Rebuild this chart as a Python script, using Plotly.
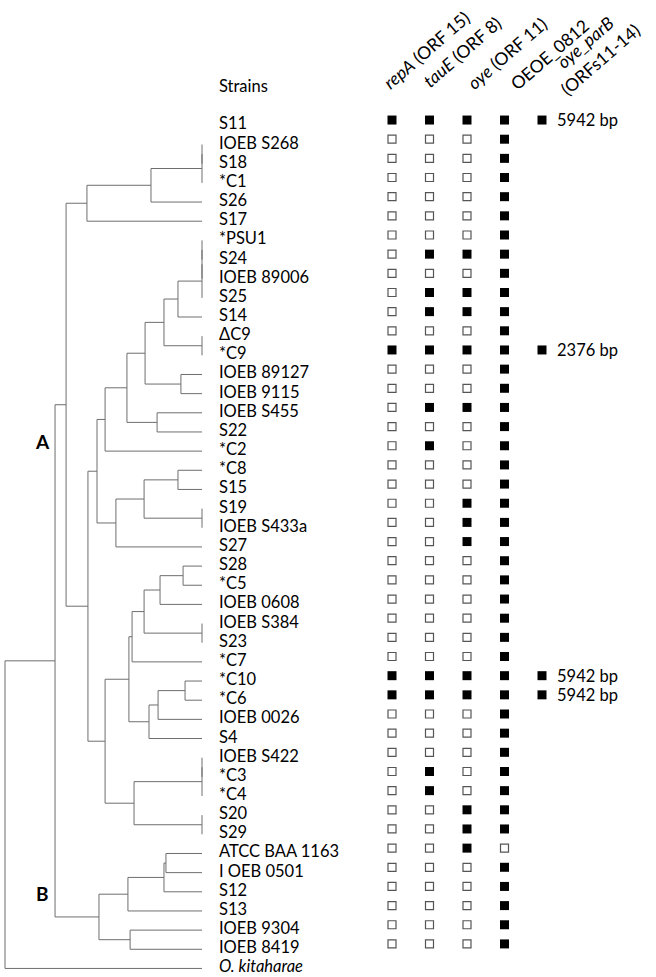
import plotly.graph_objects as go

# ---------------- data ----------------
strains = ["S11", "IOEB S268", "S18", "*C1", "S26", "S17", "*PSU1", "S24", "IOEB 89006",
           "S25", "S14", "ΔC9", "*C9", "IOEB 89127", "IOEB 9115", "IOEB S455", "S22", "*C2",
           "*C8", "S15", "S19", "IOEB S433a", "S27", "S28", "*C5", "IOEB 0608", "IOEB S384",
           "S23", "*C7", "*C10", "*C6", "IOEB 0026", "S4", "IOEB S422", "*C3", "*C4", "S20",
           "S29", "ATCC BAA 1163", "I OEB 0501", "S12", "S13", "IOEB 9304", "IOEB 8419",
           "O. kitaharae"]

gene_labels = ["<i>repA</i> (ORF 15)", "<i>tauE</i> (ORF 8)", "<i>oye</i> (ORF 11)", "OEOE_0812",
               "<i>oye_parB</i><br>(ORFs11-14)"]

# presence (1) / absence (0) for the 44 Oenococcus strains (O. kitaharae not typed)
repA = [1, 0, 0, 0, 0, 0, 0, 0, 0, 0, 0, 0, 1, 0, 0, 0, 0, 0, 0, 0, 0, 0, 0, 0, 0, 0, 0, 0, 0,
        1, 1, 0, 0, 0, 0, 0, 0, 0, 0, 0, 0, 0, 0, 0]
tauE = [1, 0, 0, 0, 0, 0, 0, 1, 0, 1, 1, 0, 1, 0, 0, 1, 0, 1, 0, 0, 0, 0, 0, 0, 0, 0, 0, 0, 0,
        1, 1, 0, 0, 0, 1, 1, 0, 0, 0, 0, 0, 0, 0, 0]
oye = [1, 0, 0, 0, 0, 0, 0, 1, 0, 1, 1, 0, 1, 0, 0, 1, 0, 0, 0, 0, 1, 1, 1, 0, 0, 0, 0, 0, 0,
       1, 1, 0, 0, 0, 0, 0, 1, 1, 1, 0, 0, 0, 0, 0]
oeoe_0812 = [1, 1, 1, 1, 1, 1, 1, 1, 1, 1, 1, 1, 1, 1, 1, 1, 1, 1, 1, 1, 1, 1, 1, 1, 1, 1, 1, 1, 1,
             1, 1, 1, 1, 1, 1, 1, 1, 1, 0, 1, 1, 1, 1, 1]
oye_parB = {"S11": "5942 bp", "*C9": "2376 bp", "*C10": "5942 bp", "*C6": "5942 bp"}

# dendrogram: (height, left, right); leaves are strain names; heights = relative distance
tree = (1.000,
        (0.746,
         (0.690,
          (0.584,
           (0.259, (0.0, (0.0, "IOEB S268", "S18"), "*C1"), "S26"),
           "S17"),
          (0.579,
           (0.533,
            (0.492,
             (0.381,
              (0.289,
               (0.193,
                (0.122, (0.0, (0.0, (0.0, "*PSU1", "S24"), "IOEB 89006"), "S25"), "S14"),
                (0.0, "ΔC9", "*C9")),
               (0.107, "IOEB 89127", "IOEB 9115")),
              (0.228, "IOEB S455", "S22")),
             "*C2"),
            (0.437,
             (0.294, (0.122, "*C8", "S15"), (0.0, "S19", "IOEB S433a")),
             "S27")),
           (0.492,
            (0.371,
             (0.355,
              (0.294, (0.213, (0.096, "S28", "*C5"), "IOEB 0608"), (0.0, "IOEB S384", "S23")),
              "*C7"),
             (0.269, (0.223, (0.086, "*C10", "*C6"), "IOEB 0026"), "S4")),
            (0.345, (0.0, (0.0, "IOEB S422", "*C3"), "*C4"), (0.0, "S20", "S29"))))),
         (0.523,
          (0.376, (0.193, (0.183, "ATCC BAA 1163", "I OEB 0501"), "S12"), "S13"),
          (0.365, "IOEB 9304", "IOEB 8419"))),
        "O. kitaharae")

clade_labels = ["A", "B"]

# ---------------- layout constants ----------------
W, H = 656, 977
ROW0_PX, ROW_PX = 125.4, 19.16          # pixel row geometry
TIP_PX, UNIT_PX = 202, 197              # tree tips position, pixels per distance unit
COL0_PX, COL_PX = 392, 37.5             # matrix columns
FONT = "Lato, 'Open Sans', sans-serif"
LABEL_SIZE = 16.5
MARK_DY = -0.28                          # marker row offset (rows)
HEADER_XSHIFT = [34, 32, 40, 45, 51]     # header centre offset from its column (px)
HEADER_Y = [50, 52, 53, 54, 51]          # header centre from top (px)
HEADER_ANGLE = -41

row_of = {s: i for i, s in enumerate(strains)}

# ---------------- dendrogram segments ----------------
xs, ys = [], []


def walk(node):
    if isinstance(node, str):
        return row_of[node], 0.0
    h, left, right = node
    yl, hl = walk(left)
    yr, hr = walk(right)
    xs.extend([h, h, None]); ys.extend([yl, yr, None])
    xs.extend([h, hl, None]); ys.extend([yl, yl, None])
    xs.extend([h, hr, None]); ys.extend([yr, yr, None])
    return (yl + yr) / 2, h


walk(tree)

fig = go.Figure()
fig.add_trace(go.Scatter(x=xs, y=ys, mode="lines", line=dict(color="#6e6e6e", width=1),
                         hoverinfo="skip", showlegend=False, xaxis="x", yaxis="y"))

# ---------------- matrix ----------------
genes = [repA, tauE, oye, oeoe_0812]
fx, fy, ox, oy = [], [], [], []
for ci, g in enumerate(genes):
    for ri, v in enumerate(g):
        if v:
            fx.append(ci); fy.append(ri + MARK_DY)
        else:
            ox.append(ci); oy.append(ri + MARK_DY)
for s in oye_parB:
    fx.append(4); fy.append(row_of[s] + MARK_DY)

fig.add_trace(go.Scatter(x=fx, y=fy, mode="markers", xaxis="x2", yaxis="y",
                         marker=dict(symbol="square", size=9, color="black",
                                     line=dict(width=0)),
                         hoverinfo="skip", showlegend=False))
fig.add_trace(go.Scatter(x=ox, y=oy, mode="markers", xaxis="x2", yaxis="y",
                         marker=dict(symbol="square", size=8, color="white",
                                     line=dict(width=1.2, color="#555555")),
                         hoverinfo="skip", showlegend=False))

ann = []
for s, i in row_of.items():
    txt = "<i>%s</i>" % s if s == "O. kitaharae" else s
    ann.append(dict(x=0, y=i, xref="x", yref="y", text=txt, showarrow=False,
                    xanchor="left", yanchor="middle", xshift=15, yshift=2,
                    font=dict(family=FONT, size=LABEL_SIZE, color="black")))
for s, t in oye_parB.items():
    ann.append(dict(x=4, y=row_of[s] + MARK_DY, xref="x2", yref="y", text=t, showarrow=False,
                    xanchor="left", yanchor="middle", xshift=13,
                    font=dict(family=FONT, size=LABEL_SIZE, color="black")))
ann.append(dict(x=0, y=1 - 86 / H, xref="x", yref="paper", text="Strains", showarrow=False,
                xanchor="left", yanchor="middle", xshift=15,
                font=dict(family=FONT, size=LABEL_SIZE, color="black")))
for ci, lab in enumerate(gene_labels):
    ann.append(dict(x=ci, y=1 - HEADER_Y[ci] / H, xref="x2", yref="paper", text=lab,
                    showarrow=False, xanchor="center", yanchor="middle",
                    textangle=HEADER_ANGLE, xshift=HEADER_XSHIFT[ci], align="center",
                    font=dict(family=FONT, size=17.5, color="black")))
for lab, (px, py) in zip(clade_labels, [(42, 442), (42, 893)]):
    ann.append(dict(x=px / W, y=1 - py / H, xref="paper", yref="paper", text="<b>%s</b>" % lab,
                    showarrow=False, xanchor="center", yanchor="middle",
                    font=dict(family=FONT, size=19, color="black")))

fig.update_layout(
    width=W, height=H, margin=dict(l=0, r=0, t=0, b=0),
    paper_bgcolor="white", plot_bgcolor="white",
    xaxis=dict(range=[TIP_PX / UNIT_PX, (TIP_PX - W) / UNIT_PX], domain=[0, 1], visible=False,
               showgrid=False, zeroline=False),
    xaxis2=dict(range=[-COL0_PX / COL_PX, (W - COL0_PX) / COL_PX], domain=[0, 1],
                overlaying="x", visible=False, showgrid=False, zeroline=False),
    yaxis=dict(range=[(H - ROW0_PX) / ROW_PX, -ROW0_PX / ROW_PX], domain=[0, 1], visible=False,
               showgrid=False, zeroline=False),
    annotations=ann,
)

fig.write_html("out.html", config={"displayModeBar": False},
               post_script="document.body.style.margin='0px';")
